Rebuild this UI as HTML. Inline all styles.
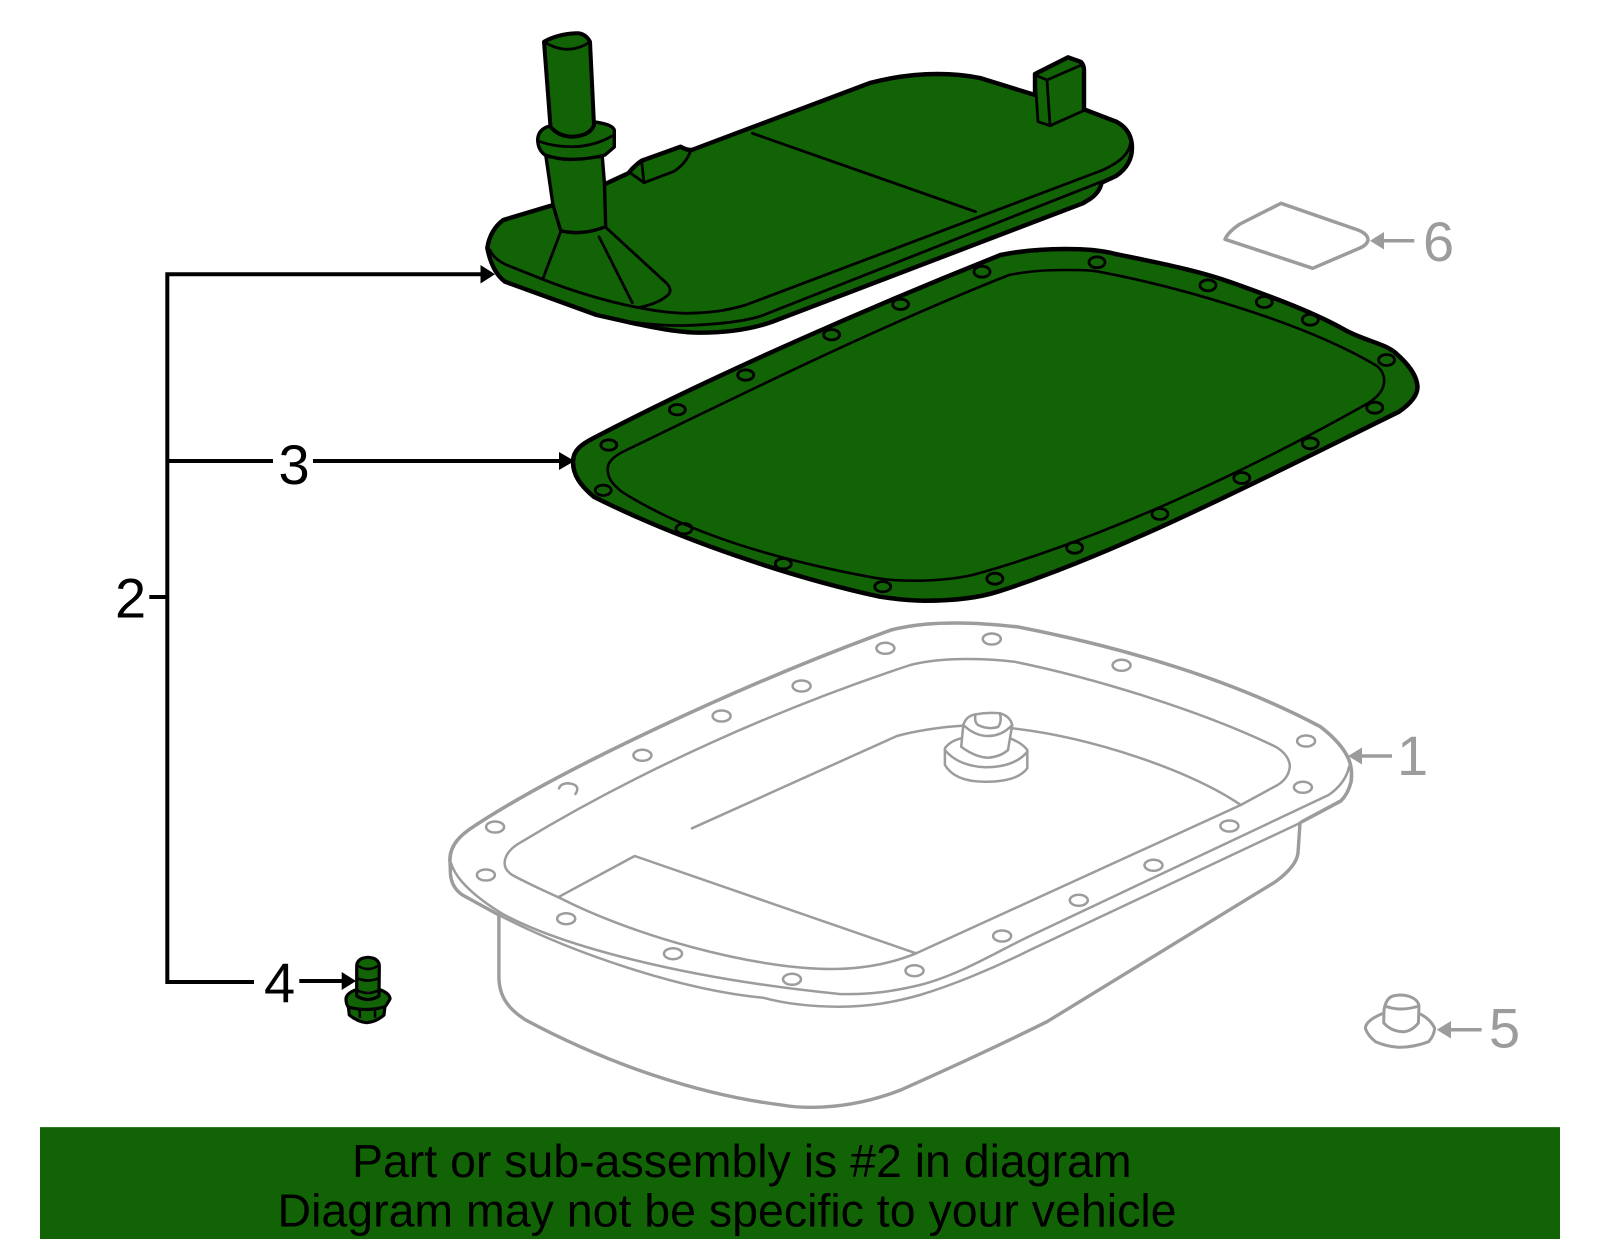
<!DOCTYPE html>
<html><head><meta charset="utf-8"><style>
html,body{margin:0;padding:0;background:#fff}
svg{display:block}
text{font-family:"Liberation Sans",Arial,sans-serif}
</style></head><body>
<svg xmlns="http://www.w3.org/2000/svg" width="1600" height="1249" viewBox="0 0 1600 1249">
<rect width="1600" height="1249" fill="#fff"/>

<!-- PAN (grey) -->
<g fill="none" stroke="#9c9c9c" stroke-width="2.5" stroke-linejoin="round" stroke-linecap="round">
  <path stroke-width="3.4" d="M498.9,915 L498.9,976.7 C499,998 510,1010 525.7,1020 C610,1065 700,1095 782,1105 C792,1107 802,1107.3 812.7,1107.3 C845,1107 875,1100 900.7,1090 C950,1068 1000,1045 1047,1021.7 L1275.5,881.7 C1290,871 1297,862 1298,853 L1300,823"/>
  <path stroke-width="3.6" d="M449.9,860 C450,845 460,835 475.9,825 C560,770 740,685 891,630 C915,624 935,623 958,623 C980,623 1000,625 1018.4,627 C1100,643 1220,673 1320.4,726.7 C1335,738 1345,750 1349,760 C1352,768 1352,775 1351,782 C1349,790 1346,796 1340.8,801 L1302,821.7"/>
  <path stroke-width="3.4" d="M449.9,860 L450.5,875 Q452,888 462.5,895 L498.9,915"/>
  <path d="M451,863 C456,880 475,897 502.7,914 C560,945 680,978 839.5,994 C870,995 895,991 919.9,985 C960,975 1000,950 1030,936 L1328.6,795 C1340,787 1347,777 1349,766.7"/>
  <path d="M498.9,915 C570,952 680,990 763,997.7 C790,1005 815,1006.7 839.5,1006.7 C870,1006.7 895,1002 919.9,995 C950,986 990,970 1030,950 L1300,823"/>
  <path d="M504.6,863 C505,854 512,847 521.8,841.7 C640,770 780,708 910.3,665 C930,660 950,659 965.8,659 C985,659 1000,660 1014.3,661.7 C1090,677 1200,710 1275.5,746.7 C1285,752 1290,760 1289.8,766.7 C1289,775 1284,781 1277.6,785 L1240.8,805 L916.3,953.3 C890,964 860,969 831.8,969 C750,969 630,934 560,898 C540,889 525,882 512.3,875 C506,871 504.6,867 504.6,863Z"/>
  <path d="M558,897.3 L634.7,856 L916,953.3"/>
  <path d="M692,828.3 L896.9,736 C915,731 940,727 962,725.7"/>
  <path d="M1012,728.3 C1090,737 1190,770 1240.8,805"/>
  <!-- plug -->
  <path fill="#fff" stroke="none" d="M944.9,748 Q952,740 961,738 L1010,738 Q1022,742 1027.3,750 L1027.3,768 Q1015,782 985.7,781.7 Q955,782 944.9,765Z"/>
  <path d="M961.2,738.3 Q950,741 944.9,748.3 L944.9,765 Q955,782 985.7,781.7 Q1017,782 1027.3,768.3 L1027.3,750 Q1022,743 1010,738.3"/>
  <path d="M944.9,750 Q958,766 985.7,767.3 Q1015,767 1027.3,751.7"/>
  <path fill="#fff" d="M961.2,746.7 L963.3,725 Q966,716 975.5,714.3 Q988,712 1000,713.3 Q1010,716 1012.2,725 L1008,750 Q1000,757 987.8,757.7 Q975,757 961.2,746.7Z"/>
  <path d="M963.3,725 Q975,736 987.8,736 Q1002,736 1012.2,725"/>
  <path d="M975.5,714.3 Q974,722 978,725 Q988,730 998,727 Q1002,722 1000,713.3"/>
  <!-- holes -->
  <ellipse cx="495.1" cy="827" rx="9" ry="5.5"/>
  <ellipse cx="485.9" cy="875" rx="9" ry="5.5"/>
  <path d="M559,788.3 Q561,783.5 567.8,783.3 Q577,784 577.3,789 Q577,792 575.4,794"/>
  <ellipse cx="642.4" cy="755.3" rx="9" ry="5.5"/>
  <ellipse cx="721.6" cy="716" rx="9" ry="5.5"/>
  <ellipse cx="801.6" cy="686" rx="9" ry="5.5"/>
  <ellipse cx="885.4" cy="648.3" rx="9" ry="5.5"/>
  <ellipse cx="991.8" cy="639" rx="9" ry="5.5"/>
  <ellipse cx="1121.6" cy="665.3" rx="9" ry="5.5"/>
  <ellipse cx="1306.1" cy="741" rx="9" ry="5.5"/>
  <ellipse cx="1302.9" cy="787.3" rx="9" ry="5.5"/>
  <ellipse cx="1229.4" cy="826" rx="9" ry="5.5"/>
  <ellipse cx="1153.5" cy="865.3" rx="9" ry="5.5"/>
  <ellipse cx="1078.8" cy="900.3" rx="9" ry="5.5"/>
  <ellipse cx="1002.1" cy="936" rx="9" ry="5.5"/>
  <ellipse cx="914.5" cy="970.7" rx="9" ry="5.5"/>
  <ellipse cx="792" cy="979.3" rx="9" ry="5.5"/>
  <ellipse cx="673" cy="953.7" rx="9" ry="5.5"/>
  <ellipse cx="566.2" cy="918.7" rx="9" ry="5.5"/>
</g>

<!-- PART 6 -->
<path fill="none" stroke="#9c9c9c" stroke-width="3.5" stroke-linejoin="round" d="M1225,239.3 Q1228,232 1240,224 L1281,203.3 L1358,230 Q1368,234 1368,240 Q1367,245 1360,248 L1312.7,268.3 Z"/>

<!-- PART 5 -->
<g fill="none" stroke="#9c9c9c" stroke-width="3" stroke-linejoin="round">
  <path d="M1384,1013 Q1366,1020 1365.3,1028.3 Q1368,1036 1375.5,1041.7 Q1388,1047 1400,1047.3 Q1415,1047 1428.6,1041.7 Q1434,1036 1434.7,1028.3 Q1430,1018 1418,1013"/>
  <path d="M1383.7,1023 L1384,1010 Q1386,998 1393,996 Q1400,994 1408,996 Q1418,999 1419,1006 L1418.4,1023 Q1412,1031 1404,1031.7 Q1392,1032 1383.7,1023Z"/>
  <path d="M1385,1006 Q1400,1012 1419,1006"/>
</g>

<!-- grey leaders -->
<g stroke="#9c9c9c" fill="#9c9c9c">
  <path d="M1392,756 H1360" stroke-width="3.5" fill="none"/>
  <path stroke="none" d="M1348,756 L1362,747.5 V764.5Z"/>
  <path d="M1481.6,1029.7 H1448" stroke-width="3.5" fill="none"/>
  <path stroke="none" d="M1436.7,1029.7 L1451,1021 V1038.5Z"/>
  <path d="M1414.3,240.7 H1382" stroke-width="3.5" fill="none"/>
  <path stroke="none" d="M1370,240.7 L1384,232 V249.5Z"/>
</g>
<g font-size="56" fill="#9c9c9c">
  <text x="1397" y="775">1</text>
  <text x="1489" y="1047.5">5</text>
  <text x="1423" y="261">6</text>
</g>

<!-- FILTER (green) -->
<g fill="#116305" stroke="#000" stroke-linejoin="round" stroke-linecap="round">
  <path stroke-width="4.4" d="M487.3,248 C489,236 495,226 503.3,220 L553.3,205 L606.7,183.3 L628.3,173.3 Q634,166 641.7,160.7 L680.7,146.7 Q686,150 691.7,150 L870.7,82.7 Q905,74 937.7,74 Q960,74 980,78 L1035,95 L1035,74 L1068,57.3 L1081,62 Q1084,65 1084,70 L1084,109.3 L1116.3,121.7 Q1132,130 1132,148 Q1132,165 1116,176 L1101.5,182.7 Q1100,192 1090,199 L1082.8,203.3 L772.5,321.7 C752,329 728,332.7 700,332.7 C678,332.7 658,328 636.7,324 L596.7,315 L505,281.7 Q492,272 487.3,248 Z"/>
  <g fill="none" stroke-width="2.8">
    <path d="M490,250 C493,257 500,262 506.7,265 L542.7,279.3 C575,292 605,301 636.7,307.3 C655,311 670,313.3 686.7,313.3 C710,313 725,311 745.7,305 L1102.9,170 C1120,162 1129,154 1130.5,143"/>
    <path d="M596.7,315 C625,322 650,325.5 683,325.5 C710,325 745,322 763.6,315 L1101.5,181.7"/>
    <path d="M752.4,133.3 L975.6,211.7"/>
    <!-- flare -->
    <path d="M560.7,231.7 L542.7,279.3"/>
    <path d="M599,236.7 L632.3,302.7"/>
    <path d="M605.7,227.3 L666.7,283.3 Q672,289 669,294 Q660,303 640,307.3"/>
    <!-- small tab -->
    <path d="M630,172.7 L644,182.7 L673.3,171.7 Q686,164 690.5,151"/>
    <path d="M641.7,161.7 L644,182.7"/>
    <!-- right tab -->
    <path d="M1035,76.7 L1038,121.7 L1050,125.7 L1084,110.5"/>
    <path d="M1047,80 L1050,125.7"/>
    <path d="M1035,75 L1047,80 L1081.4,65"/>
    <path d="M1068,57.3 L1081.4,63"/>
  </g>
  <!-- lower tube -->
  <path stroke-width="3.4" d="M546,156.7 L553,205 L560.7,230.7 Q582,236 605.7,226.7 L604.5,184 L602.3,156.7Z"/>
  <path fill="none" stroke-width="2.8" d="M560.7,230.7 Q582,236 605.7,226.7"/>
  <!-- collar -->
  <path stroke-width="3.4" d="M550,126 Q538,129 537.7,140 Q538,150 545,155 Q560,160 573.3,159.3 Q590,159 605,155 L614.3,147 L614.3,130 Q612,124 594,122Z"/>
  <path fill="none" stroke-width="2.8" d="M540,141.7 Q555,147 573.3,146.7 Q595,146 612,136"/>
  <!-- upper tube -->
  <path stroke-width="4" d="M544,41.7 L550.5,126.7 Q558,136 571.7,136.7 Q590,136 594,125 L590,41.7 Q585,33 576.7,33.3 Q558,34 544,41.7Z"/>
  <path fill="none" stroke-width="2.8" d="M544,41.7 Q555,49 566.7,49.3 Q580,49 590,41.7"/>
</g>

<!-- GASKET (green) -->
<g fill="#116305" stroke="#000" stroke-linejoin="round">
  <path stroke-width="4.5" d="M573,461.7 C573,450 582,444 593.7,438 C720,372 880,303 1000.5,255 C1025,250 1045,249 1065,249 C1085,249 1100,250 1115.6,254 C1160,263 1200,271 1233,283 C1275,298 1315,313 1345,330 C1365,341 1385,343.3 1396,353.3 C1408,364 1417,375 1417.5,387 C1417.5,396 1410,404 1399,411.7 C1280,470 1120,553 997.7,591.7 C975,599 950,600.7 924.8,600.7 C908,600.7 895,599 879.9,596.7 C790,577 680,540 593.7,496.7 C580,485 573,475 573,461.7 Z"/>
  <path fill="none" stroke-width="2.6" d="M607.7,470 C607,462 614,456 624.5,451 C720,405 870,330 1009,275 C1030,271 1045,270 1065,270 C1080,270 1090,270 1098.7,271.7 C1170,285 1300,320 1377,366 C1384,372 1384.5,378 1384,383 C1383,392 1376,398 1368,403.3 C1250,470 1100,540 972.5,575 C950,580 930,580.7 913.5,580.7 C898,580.7 882,579.5 868.6,576.7 C780,560 690,535 621.7,491.7 C612,484 608,478 607.7,470Z"/>
  <g fill="none" stroke-width="2.8">
    <ellipse cx="608.8" cy="445" rx="8" ry="5.2"/>
    <ellipse cx="603.2" cy="490.3" rx="8" ry="5.2"/>
    <ellipse cx="677.3" cy="409.7" rx="8" ry="5.2"/>
    <ellipse cx="745.7" cy="375" rx="8" ry="5.2"/>
    <ellipse cx="831.6" cy="334.7" rx="8" ry="5.2"/>
    <ellipse cx="900.6" cy="304.3" rx="8" ry="5.2"/>
    <ellipse cx="982" cy="271.7" rx="8" ry="5.5"/>
    <ellipse cx="1097" cy="262.3" rx="8" ry="5.5"/>
    <ellipse cx="1208" cy="285.3" rx="8" ry="5.5"/>
    <ellipse cx="1264.3" cy="302" rx="8" ry="5.5"/>
    <ellipse cx="1310.3" cy="319.7" rx="8" ry="5.5"/>
    <ellipse cx="1386.6" cy="360" rx="8" ry="5.5"/>
    <ellipse cx="1374.8" cy="407.7" rx="8" ry="5.5"/>
    <ellipse cx="1310.3" cy="443.3" rx="8" ry="5.5"/>
    <ellipse cx="1241.8" cy="478" rx="8" ry="5.5"/>
    <ellipse cx="1159.9" cy="514" rx="8" ry="5.5"/>
    <ellipse cx="1074.6" cy="547.7" rx="8" ry="5.5"/>
    <ellipse cx="994.9" cy="578.7" rx="8" ry="5.5"/>
    <ellipse cx="882.7" cy="586.7" rx="8" ry="5.2"/>
    <ellipse cx="783.3" cy="563.7" rx="8" ry="5.2"/>
    <ellipse cx="684" cy="528.7" rx="8" ry="5.2"/>
  </g>
</g>

<!-- BOLT -->
<g fill="#116305" stroke="#000" stroke-linejoin="round" stroke-width="3.2">
  <path d="M348.3,1006 L349.3,1015 Q358,1022 366.7,1022.7 Q376,1022 384,1015 L385,1006 Q366,1013 348.3,1006Z"/>
  <path d="M346,999 Q346,993 358,989 L378,989 Q390,993 390,999 Q386,1006 385,1006.7 Q366,1012 348.3,1007 Q346,1004 346,999Z"/>
  <path d="M356.7,966 Q357,958 368,957.3 Q379,958 379.3,966 L379,996 Q368,1003 356.7,996Z"/>
  <g fill="none" stroke-width="2.6">
    <path d="M356.7,965 Q368,973 379.3,965"/>
    <path d="M356.7,978 Q368,983 379,978"/>
    <path d="M356.7,990 Q368,996 379,990"/>
    <path d="M359.5,1008 L360,1018"/>
    <path d="M375,1008 L375,1018"/>
  </g>
</g>

<!-- black leaders -->
<g fill="none" stroke="#000" stroke-width="4">
  <path d="M484,274.3 H167.3 V982 H254"/>
  <path d="M167.3,461 H273"/>
  <path d="M313,461 H562"/>
  <path d="M149.3,597 H167"/>
  <path d="M299.3,981 H345"/>
</g>
<g fill="#000">
  <path d="M495,274.3 L480.5,265 V283.5Z"/>
  <path d="M574.5,461 L559,452 V470Z"/>
  <path d="M356,981 L341.7,972 V990Z"/>
</g>
<g font-size="56" fill="#000">
  <text x="115" y="617.5">2</text>
  <text x="278.5" y="484">3</text>
  <text x="264" y="1002">4</text>
</g>

<!-- BANNER -->
<rect x="40" y="1127" width="1520" height="112" fill="#116305"/>
<rect x="40" y="1127" width="1520" height="1" fill="#2f7a24"/>
<text x="352" y="1177" font-size="46" fill="#000" textLength="779.6" lengthAdjust="spacingAndGlyphs">Part or sub-assembly is #2 in diagram</text>
<text x="277.5" y="1226.5" font-size="46" fill="#000" textLength="899" lengthAdjust="spacingAndGlyphs">Diagram may not be specific to your vehicle</text>
</svg>
</body></html>
